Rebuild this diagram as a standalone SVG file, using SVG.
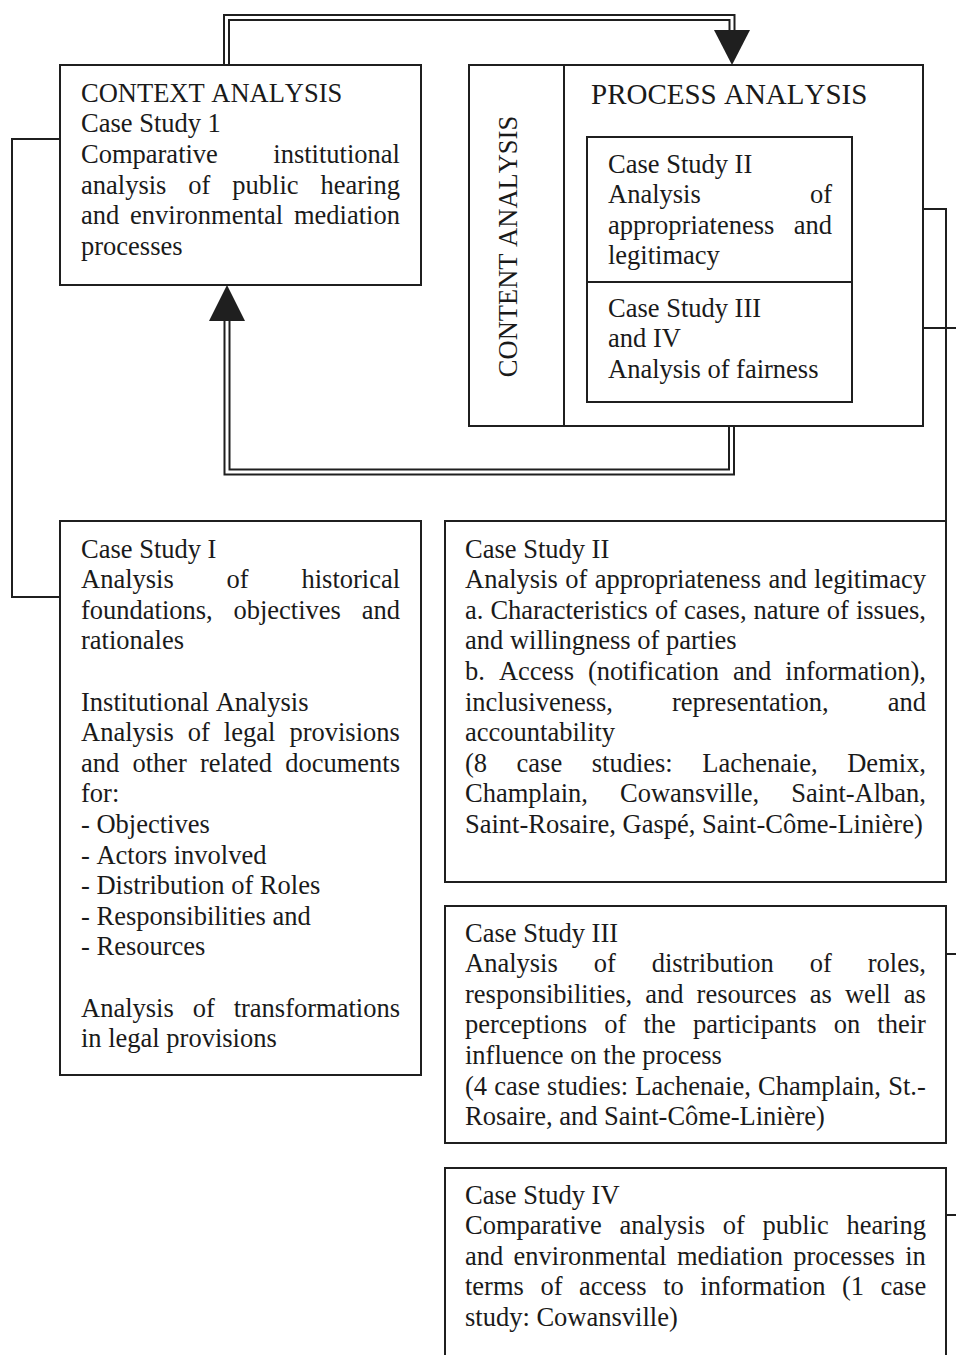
<svg xmlns="http://www.w3.org/2000/svg" width="956" height="1355" viewBox="0 0 956 1355">
<style>
.box{fill:#fff;stroke:#1f1f1f;stroke-width:2}
.ln{fill:none;stroke:#1f1f1f;stroke-width:2}
.dbl-o{fill:none;stroke:#1f1f1f;stroke-width:7;stroke-linejoin:miter}
.dbl-i{fill:none;stroke:#fff;stroke-width:3;stroke-linejoin:miter}
.ah{fill:#1f1f1f}
text{font-family:"Liberation Serif","Times New Roman",serif;font-size:26.5px;fill:#1a1a1a;font-kerning:none}
.big{font-size:29px}
</style>
<rect width="956" height="1355" fill="#fff"/>

<g id="context-analysis">
<rect class="box" x="60" y="65" width="361" height="220"/>
<text x="81" y="101.7">CONTEXT ANALYSIS</text>
<text x="81" y="132.3">Case Study 1</text>
<text x="81" y="162.9" style="word-spacing:48.8px">Comparative institutional</text>
<text x="81" y="193.5" style="word-spacing:15.3px">analysis of public hearing</text>
<text x="81" y="224.1" style="word-spacing:4.2px">and environmental mediation</text>
<text x="81" y="254.7">processes</text>
</g>

<g id="process-analysis">
<rect class="box" x="469" y="65" width="454" height="361"/>
<line class="ln" x1="564" y1="65" x2="564" y2="426"/>
<text class="big" x="591" y="103.6">PROCESS ANALYSIS</text>
<text x="0" y="0" text-anchor="middle" transform="translate(517,246.5) rotate(-90)">CONTENT ANALYSIS</text>
</g>

<g id="inner-case-studies">
<rect class="box" x="587" y="137" width="265" height="265"/>
<line class="ln" x1="587" y1="282" x2="852" y2="282"/>
<text x="608" y="172.5">Case Study II</text>
<text x="608" y="203.1" style="word-spacing:102.6px">Analysis of</text>
<text x="608" y="233.7" style="word-spacing:12.8px">appropriateness and</text>
<text x="608" y="264.3">legitimacy</text>
<text x="608" y="316.5">Case Study III</text>
<text x="608" y="347.1">and IV</text>
<text x="608" y="377.7">Analysis of fairness</text>
</g>

<g id="case-study-1">
<rect class="box" x="60" y="521" width="361" height="554"/>
<text x="81" y="557.5">Case Study I</text>
<text x="81" y="588.1" style="word-spacing:46.2px">Analysis of historical</text>
<text x="81" y="618.7" style="word-spacing:14.1px">foundations, objectives and</text>
<text x="81" y="649.3">rationales</text>
<text x="81" y="710.5">Institutional Analysis</text>
<text x="81" y="741.1" style="word-spacing:7.4px">Analysis of legal provisions</text>
<text x="81" y="771.7" style="word-spacing:6.5px">and other related documents</text>
<text x="81" y="802.3">for:</text>
<text x="81" y="832.9">- Objectives</text>
<text x="81" y="863.5">- Actors involved</text>
<text x="81" y="894.1">- Distribution of Roles</text>
<text x="81" y="924.7">- Responsibilities and</text>
<text x="81" y="955.3">- Resources</text>
<text x="81" y="1016.5" style="word-spacing:12.3px">Analysis of transformations</text>
<text x="81" y="1047.1">in legal provisions</text>
</g>

<g id="case-study-2">
<rect class="box" x="445" y="521" width="501" height="361"/>
<text x="465" y="557.5">Case Study II</text>
<text x="465" y="588.1" style="word-spacing:0.8px">Analysis of appropriateness and legitimacy</text>
<text x="465" y="618.7" style="word-spacing:0.4px">a. Characteristics of cases, nature of issues,</text>
<text x="465" y="649.3">and willingness of parties</text>
<text x="465" y="679.9" style="word-spacing:7.4px">b. Access (notification and information),</text>
<text x="465" y="710.5" style="word-spacing:52.4px">inclusiveness, representation, and</text>
<text x="465" y="741.1">accountability</text>
<text x="465" y="771.7" style="word-spacing:22.9px">(8 case studies: Lachenaie, Demix,</text>
<text x="465" y="802.3" style="word-spacing:25.5px">Champlain, Cowansville, Saint-Alban,</text>
<text x="465" y="832.9">Saint-Rosaire, Gaspé, Saint-Côme-Linière)</text>
</g>

<g id="case-study-3">
<rect class="box" x="445" y="906" width="501" height="237"/>
<text x="465" y="941.5">Case Study III</text>
<text x="465" y="972.1" style="word-spacing:29.3px">Analysis of distribution of roles,</text>
<text x="465" y="1002.7" style="word-spacing:6.5px">responsibilities, and resources as well as</text>
<text x="465" y="1033.3" style="word-spacing:10.5px">perceptions of the participants on their</text>
<text x="465" y="1063.9">influence on the process</text>
<text x="465" y="1094.5" style="word-spacing:0.6px">(4 case studies: Lachenaie, Champlain, St.-</text>
<text x="465" y="1125.1">Rosaire, and Saint-Côme-Linière)</text>
</g>

<g id="case-study-4">
<rect class="box" x="445" y="1168" width="501" height="200"/>
<text x="465" y="1203.5">Case Study IV</text>
<text x="465" y="1234.1" style="word-spacing:11.1px">Comparative analysis of public hearing</text>
<text x="465" y="1264.7" style="word-spacing:3.7px">and environmental mediation processes in</text>
<text x="465" y="1295.3" style="word-spacing:9.9px">terms of access to information (1 case</text>
<text x="465" y="1325.9">study: Cowansville)</text>
</g>

<g id="connectors">
<path class="dbl-o" d="M226.5,64 V17.5 H732 V31"/>
<path class="dbl-i" d="M226.5,64 V17.5 H732 V31"/>
<polygon class="ah" points="714,30 750,30 732,65"/>
<path class="dbl-o" d="M731.5,427 V472 H227 V320"/>
<path class="dbl-i" d="M731.5,427 V472 H227 V320"/>
<polygon class="ah" points="209,321 245,321 227,285"/>
<path class="ln" d="M60,139 H12 V597 H60"/>
<path class="ln" d="M923,209 H946 V521"/>
<path class="ln" d="M923,328 H956"/>
<path class="ln" d="M946,954 H956"/>
<path class="ln" d="M946,1215 H956"/>
</g>
</svg>
